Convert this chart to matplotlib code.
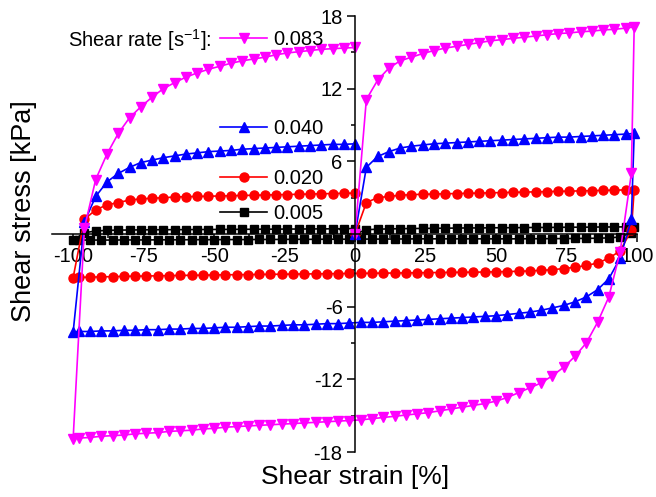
import matplotlib
matplotlib.use("Agg")
import matplotlib.pyplot as plt
from matplotlib.legend import Legend
from matplotlib.ticker import MultipleLocator

plt.rcParams["font.family"] = ["Liberation Sans", "DejaVu Sans"]
plt.rcParams["mathtext.fontset"] = "custom"
plt.rcParams["mathtext.rm"] = "Liberation Sans"
plt.rcParams["axes.unicode_minus"] = False

# strain path: loading 0 -> 100, unloading 100 -> -100, reloading -100 -> 0
strain_load = [0, 4, 8, 12, 16, 20, 24, 28, 32, 36, 40, 44, 48, 52, 56, 60, 64, 68, 72, 76,
               80, 84, 88, 92, 96, 99]
strain_unload = [98, 94, 90, 86, 82, 78, 74, 70, 66, 62, 58, 54, 50, 46, 42, 38, 34, 30, 26, 22,
                 18, 14, 10, 6, 2, -2, -6, -10, -14, -18, -22, -26, -30, -34, -38, -42, -46, -50,
                 -54, -58, -62, -66, -70, -74, -78, -82, -86, -90, -94, -98, -100]
strain_reload = [-96, -92, -88, -84, -80, -76, -72, -68, -64, -60, -56, -52, -48, -44, -40, -36,
                 -32, -28, -24, -20, -16, -12, -8, -4, 0]

# shear stress [kPa], rate 0.083 1/s
stress_083_load = [0, 11.1, 12.7, 13.7, 14.3, 14.6, 14.9, 15.15, 15.35, 15.5, 15.65, 15.8, 15.95,
                   16.05, 16.15, 16.25, 16.35, 16.45, 16.55, 16.6, 16.7, 16.75, 16.85, 16.9, 17.0, 17.1]
stress_083_unload = [5.0, -1.5, -5.2, -7.3, -9.0, -10.1, -11.0, -11.7, -12.3, -12.7, -13.1, -13.5,
                     -13.8, -14.0, -14.15, -14.3, -14.45, -14.6, -14.75, -14.85, -14.95, -15.05,
                     -15.15, -15.25, -15.35, -15.4, -15.45, -15.5, -15.55, -15.6, -15.65, -15.7,
                     -15.75, -15.8, -15.85, -15.9, -15.95, -16.05, -16.1, -16.2, -16.25, -16.3,
                     -16.4, -16.45, -16.5, -16.6, -16.65, -16.7, -16.8, -16.85, -16.9]
stress_083_reload = [0.5, 4.5, 6.6, 8.3, 9.6, 10.5, 11.3, 12.0, 12.5, 12.95, 13.3, 13.6, 13.85,
                     14.1, 14.3, 14.45, 14.6, 14.8, 14.95, 15.05, 15.15, 15.25, 15.3, 15.35, 15.4]

# rate 0.040 1/s
stress_040_load = [0, 5.5, 6.4, 6.8, 7.1, 7.25, 7.35, 7.45, 7.5, 7.55, 7.6, 7.65, 7.7, 7.75, 7.8,
                   7.85, 7.9, 7.95, 8.0, 8.0, 8.05, 8.1, 8.15, 8.2, 8.25, 8.3]
stress_040_unload = [1.2, -2.0, -3.7, -4.6, -5.2, -5.6, -5.9, -6.1, -6.3, -6.45, -6.55, -6.65,
                     -6.75, -6.8, -6.85, -6.9, -6.95, -7.0, -7.05, -7.1, -7.15, -7.2, -7.25, -7.3,
                     -7.3, -7.35, -7.4, -7.4, -7.45, -7.5, -7.5, -7.55, -7.6, -7.6, -7.65, -7.7,
                     -7.7, -7.75, -7.8, -7.8, -7.85, -7.85, -7.9, -7.9, -7.95, -7.95, -8.0, -8.0,
                     -8.05, -8.05, -8.1]
stress_040_reload = [1.0, 3.1, 4.3, 5.0, 5.5, 5.9, 6.1, 6.3, 6.45, 6.6, 6.7, 6.8, 6.85, 6.9, 7.0,
                     7.05, 7.1, 7.15, 7.2, 7.25, 7.3, 7.35, 7.4, 7.4, 7.45]

# rate 0.020 1/s
stress_020_load = [0, 2.6, 3.0, 3.1, 3.2, 3.25, 3.28, 3.3, 3.32, 3.34, 3.36, 3.38, 3.4, 3.42, 3.44,
                   3.46, 3.48, 3.5, 3.52, 3.54, 3.56, 3.58, 3.6, 3.62, 3.64, 3.66]
stress_020_unload = [0.3, -1.4, -2.0, -2.4, -2.6, -2.75, -2.85, -2.95, -3.0, -3.05, -3.08, -3.1,
                     -3.12, -3.14, -3.15, -3.16, -3.17, -3.18, -3.19, -3.2, -3.21, -3.22, -3.23,
                     -3.24, -3.25, -3.26, -3.27, -3.28, -3.29, -3.3, -3.31, -3.32, -3.33, -3.34,
                     -3.35, -3.36, -3.37, -3.38, -3.4, -3.41, -3.42, -3.44, -3.45, -3.47, -3.48,
                     -3.5, -3.52, -3.54, -3.56, -3.58, -3.6]
stress_020_reload = [1.2, 2.0, 2.4, 2.6, 2.8, 2.9, 2.95, 3.0, 3.05, 3.08, 3.1, 3.12, 3.14, 3.16,
                     3.18, 3.2, 3.22, 3.24, 3.26, 3.28, 3.3, 3.32, 3.34, 3.36, 3.38]

# rate 0.005 1/s
stress_005_load = [0, 0.35, 0.4, 0.42, 0.44, 0.45, 0.46, 0.47, 0.48, 0.49, 0.5, 0.5, 0.51, 0.52,
                   0.52, 0.53, 0.54, 0.54, 0.55, 0.56, 0.56, 0.57, 0.58, 0.58, 0.59, 0.6]
stress_005_unload = [0.1, -0.25, -0.32, -0.35, -0.36, -0.37, -0.38, -0.38, -0.39, -0.39, -0.4,
                     -0.4, -0.4, -0.4, -0.4, -0.4, -0.4, -0.4, -0.4, -0.4, -0.41, -0.41, -0.42,
                     -0.42, -0.42, -0.43, -0.43, -0.43, -0.44, -0.44, -0.44, -0.45, -0.45, -0.45,
                     -0.46, -0.46, -0.46, -0.47, -0.47, -0.47, -0.48, -0.48, -0.48, -0.49, -0.49,
                     -0.49, -0.5, -0.5, -0.5, -0.5, -0.5]
stress_005_reload = [0.1, 0.25, 0.3, 0.32, 0.33, 0.34, 0.35, 0.35, 0.36, 0.36, 0.37, 0.37, 0.38,
                     0.38, 0.39, 0.39, 0.4, 0.4, 0.41, 0.41, 0.42, 0.42, 0.43, 0.44, 0.45]

rate_labels = ["0.005", "0.020", "0.040", "0.083"]

strain = strain_load + strain_unload + strain_reload
series = [
    (stress_005_load + stress_005_unload + stress_005_reload, "black", "s", 5.2),
    (stress_020_load + stress_020_unload + stress_020_reload, "#ff0000", "o", 6.5),
    (stress_040_load + stress_040_unload + stress_040_reload, "#0000ff", "^", 7),
    (stress_083_load + stress_083_unload + stress_083_reload, "#ff00ff", "v", 7),
]

fig = plt.figure(figsize=(6.56, 4.97), dpi=100)
ax = fig.add_axes([52 / 656, 1 - 452 / 497, 585 / 656, 436 / 497])
ax.set_axisbelow(True)

lines = []
for stress, color, marker, ms in series:
    (line,) = ax.plot(strain, stress, color=color, marker=marker, markersize=ms, lw=1.2,
                      clip_on=False)
    lines.append(line)

ax.set_xlim(-107.5, 100)
ax.set_ylim(-18, 18)
for side in ["top", "right"]:
    ax.spines[side].set_visible(False)
ax.spines["left"].set_position("zero")
ax.spines["bottom"].set_position("zero")
for side in ["left", "bottom"]:
    ax.spines[side].set_linewidth(1.1)
ax.set_xticks([-100, -75, -50, -25, 0, 25, 50, 75, 100])
ax.set_yticks([-18, -12, -6, 0, 6, 12, 18])
ax.xaxis.set_minor_locator(MultipleLocator(12.5))
ax.yaxis.set_minor_locator(MultipleLocator(3))
ax.tick_params(which="both", direction="out", width=1.1, labelsize=14.5, pad=3)
ax.tick_params(which="major", length=6)
ax.tick_params(which="minor", length=3)

# inline legend entries, Origin style
legend_y = {"0.083": 0.945, "0.040": 0.743, "0.020": 0.628, "0.005": 0.548}
for line, label in zip(lines, rate_labels):
    leg = Legend(ax, [line], [label], loc="center left", bbox_to_anchor=(0.287, legend_y[label]),
                 frameon=False, handlelength=2.35, handletextpad=0.3, borderpad=0,
                 borderaxespad=0, fontsize=14.5, numpoints=1)
    ax.add_artist(leg)
ax.text(0.272, 0.945, r"Shear rate [s$^{\mathregular{-1}}$]:", transform=ax.transAxes,
        ha="right", va="center", fontsize=14.5)

fig.text(355 / 656, 1 - 477 / 497, "Shear strain [%]", ha="center", va="center", fontsize=19)
fig.text(24 / 656, 1 - 211 / 497, "Shear stress [kPa]", ha="center", va="center",
         rotation=90, fontsize=19.5)

fig.savefig("out.png", dpi=100)
